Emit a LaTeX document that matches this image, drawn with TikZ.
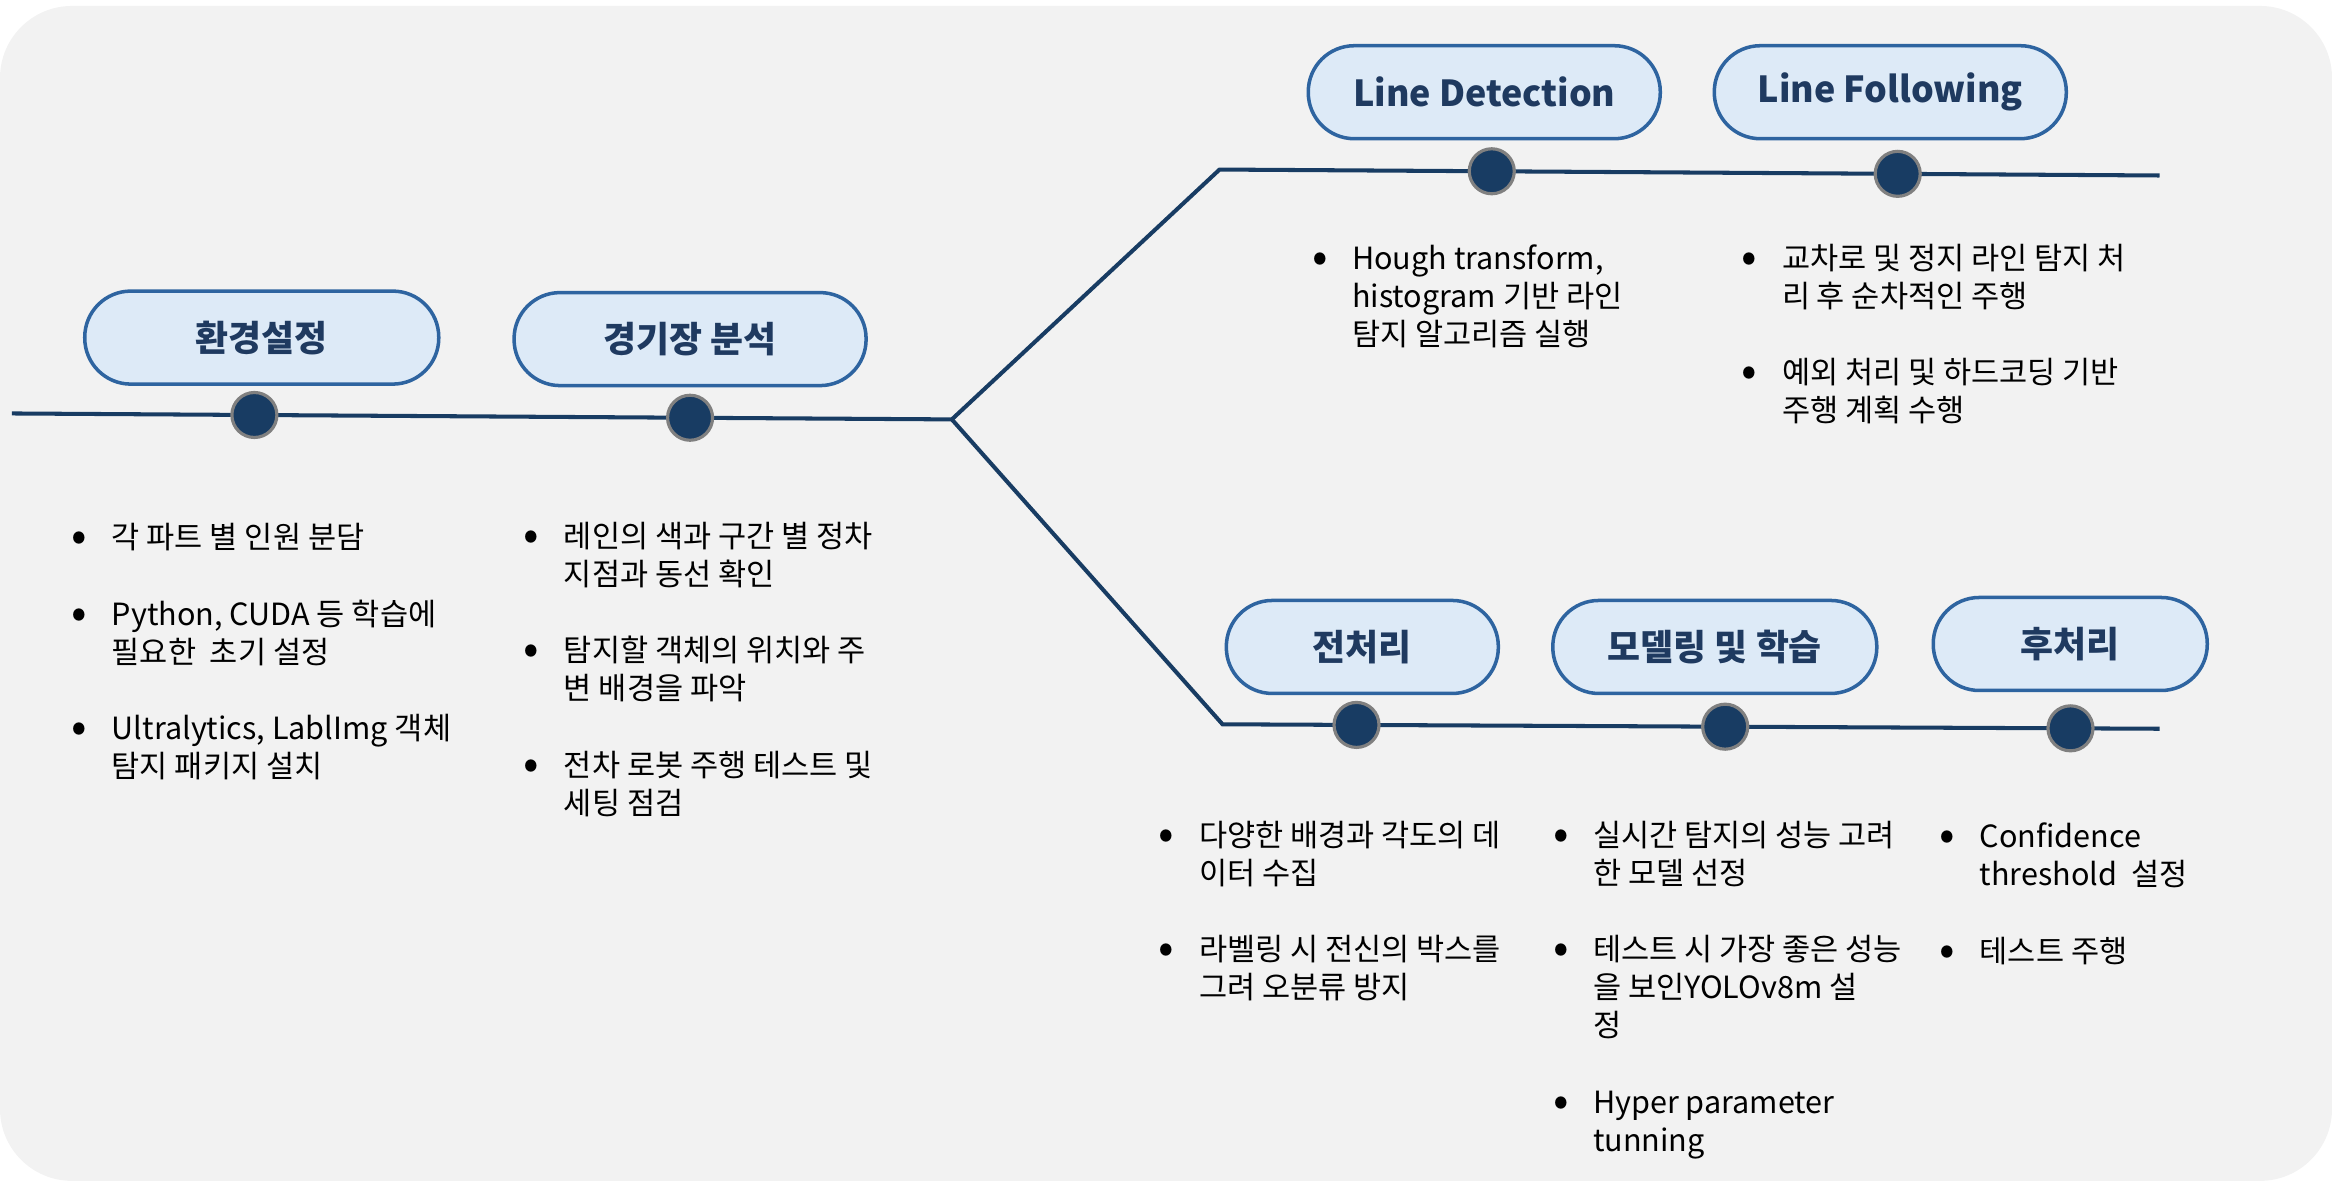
\documentclass[tikz,border=0pt]{standalone}
\usepackage{fontspec}
\setmainfont{Noto Sans CJK KR}
\definecolor{navy}{HTML}{183C63}
\definecolor{stageedge}{HTML}{2E64A0}
\definecolor{stagefill}{HTML}{DDEAF7}
\definecolor{stagetext}{HTML}{1F3A60}
\definecolor{paper}{HTML}{F2F2F2}
\newcommand{\bp}{\makebox[0pt]{\raisebox{-.1em}{\scalebox{1.5}{\textbullet}}}\hspace*{3.23mm}}
\newcommand{\ind}{\hspace*{3.23mm}}
\newcommand{\notelist}[1]{\begin{tabular}[t]{@{}l@{}}#1\end{tabular}}
\tikzset{
  stage/.style={draw=stageedge, fill=stagefill, line width=1pt, rounded corners=4.6mm,
    minimum height=9.3mm, text=stagetext, font=\fontsize{10.2pt}{12pt}\selectfont\bfseries},
  milestone/.style={circle, fill=navy, draw=gray, line width=.9pt, minimum size=4.5mm, inner sep=0pt},
  notes/.style={anchor=base west, inner sep=0pt, font=\fontsize{8.7pt}{10.85pt}\selectfont},
  tline/.style={draw=navy, line width=1.15pt}
}
\begin{document}
\begin{tikzpicture}[x=0.14872mm, y=-0.14872mm]
\useasboundingbox (0,0) rectangle (1568,794);
\fill[paper, rounded corners=7.2mm] (0,4) rectangle (1568,794);

\coordinate (start) at (8,278);
\coordinate (fork) at (640,282);
\coordinate (upbend) at (820,114);
\coordinate (upend) at (1452,118);
\coordinate (lowbend) at (822,487);
\coordinate (lowend) at (1452,490);

\draw[tline] (start) -- (fork) -- (upbend) -- (upend);
\draw[tline] (fork) -- (lowbend) -- (lowend);

\path (start) -- node[milestone, pos=.258] (env) {} node[milestone, pos=.7215] (field) {} (fork);
\path (upbend) -- node[milestone, pos=.2896] (detect) {} node[milestone, pos=.7215] (follow) {} (upend);
\path (lowbend) -- node[milestone, pos=.143] (pre) {} node[milestone, pos=.5365] (train) {} node[milestone, pos=.905] (post) {} (lowend);

\node[stage, minimum width=35.4mm] (envbox) at (176,227) {환경설정};
\node[stage, minimum width=35.2mm] (fieldbox) at (464,228) {경기장 분석};
\node[stage, minimum width=35.2mm] (detectbox) at (998,62) {Line Detection};
\node[stage, minimum width=35.2mm] (followbox) at (1271,62) {Line Following};
\node[stage, minimum width=27.2mm] (prebox) at (916,435) {전처리};
\node[stage, minimum width=32.4mm] (trainbox) at (1153,435) {모델링 및 학습};
\node[stage, minimum width=27.4mm] (postbox) at (1392,433) {후처리};

\node[notes] (envnotes) at (53,369) {\notelist{\bp 각 파트 별 인원 분담\\[10.85pt]
  \bp Python, CUDA 등 학습에\\ \ind 필요한\ \ 초기 설정\\[10.85pt]
  \bp Ultralytics, LablImg 객체\\ \ind 탐지 패키지 설치}};
\node[notes] (fieldnotes) at (357,368) {\notelist{\bp 레인의 색과 구간 별 정차\\ \ind 지점과 동선 확인\\[10.85pt]
  \bp 탐지할 객체의 위치와 주\\ \ind 변 배경을 파악\\[10.85pt]
  \bp 전차 로봇 주행 테스트 및\\ \ind 세팅 점검}};
\node[notes] (detectnotes) at (887,181) {\notelist{\bp Hough transform,\\ \ind histogram 기반 라인\\ \ind 탐지 알고리즘 실행}};
\node[notes] (follownotes) at (1176,181) {\notelist{\bp 교차로 및 정지 라인 탐지 처\\ \ind 리 후 순차적인 주행\\[10.85pt]
  \bp 예외 처리 및 하드코딩 기반\\ \ind 주행 계획 수행}};
\node[notes] (prenotes) at (784,569) {\notelist{\bp 다양한 배경과 각도의 데\\ \ind 이터 수집\\[10.85pt]
  \bp 라벨링 시 전신의 박스를\\ \ind 그려 오분류 방지}};
\node[notes] (trainnotes) at (1049,569) {\notelist{\bp 실시간 탐지의 성능 고려\\ \ind 한 모델 선정\\[10.85pt]
  \bp 테스트 시 가장 좋은 성능\\ \ind 을 보인YOLOv8m 설\\ \ind 정\\[10.85pt]
  \bp Hyper parameter\\ \ind tunning}};
\node[notes] (postnotes) at (1309,570) {\notelist{\bp Confidence\\ \ind threshold\ \ 설정\\[10.85pt]
  \bp 테스트 주행}};
\end{tikzpicture}
\end{document}
